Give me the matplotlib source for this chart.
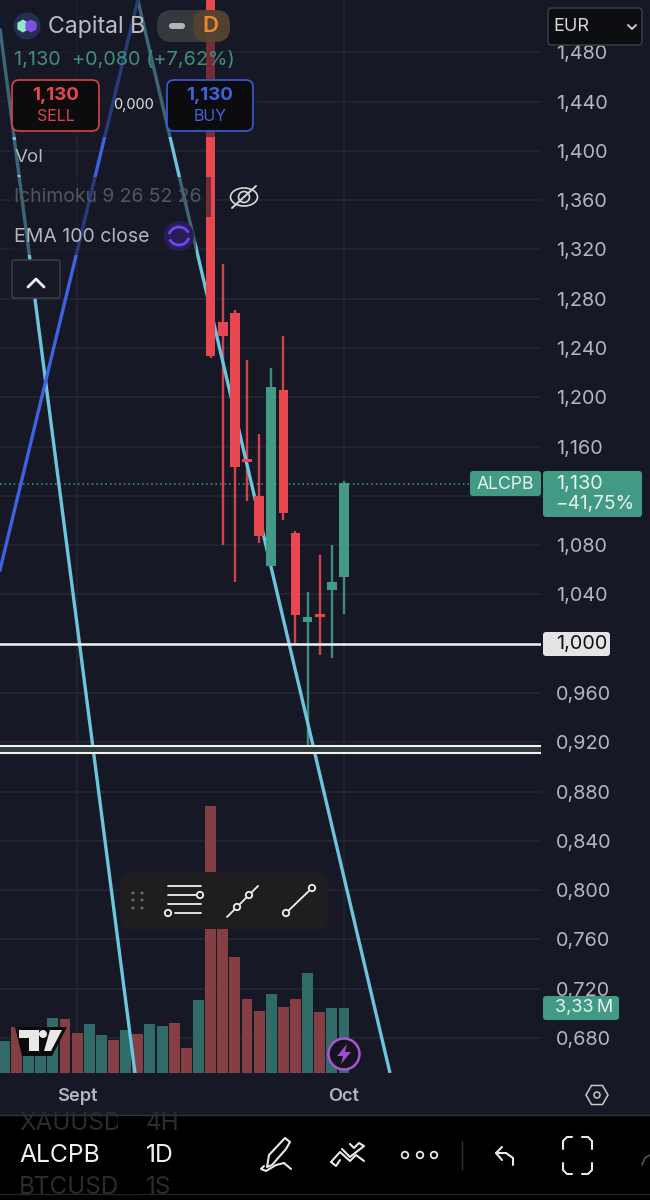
import matplotlib
matplotlib.use("Agg")
import matplotlib.pyplot as plt
from matplotlib.patches import FancyBboxPatch, Rectangle, Circle, Polygon, RegularPolygon, Ellipse, Arc

plt.rcParams['font.family'] = ['Inter', 'DejaVu Sans']

# ---------- data ----------
bar_index = list(range(-11, 1))
opens  = [1.980, 1.2610, 1.2687, 1.1500, 1.1200, 1.0633, 1.2060, 1.0898, 1.0175, 1.0240, 1.0435, 1.0541]
highs  = [1.990, 1.3080, 1.2705, 1.2303, 1.1700, 1.2240, 1.2500, 1.0917, 1.0420, 1.0720, 1.0800, 1.1320]
lows   = [1.232, 1.0800, 1.0500, 1.1160, 1.0820, 1.0633, 1.1004, 1.0000, 0.9170, 0.9910, 0.9880, 1.0240]
closes = [1.2338, 1.2500, 1.1434, 1.1475, 1.0877, 1.2080, 1.1060, 1.0233, 1.0215, 1.0215, 1.0500, 1.1304]

volume_index = list(range(-28, 1))
volumes = [1.66, 2.37, 1.48, 1.40, 2.80, 2.76, 2.05, 2.51, 1.93, 1.69, 2.20, 2.01, 2.49, 2.41, 2.56,
           1.30, 3.72, 13.69, 7.37, 5.96, 3.81, 3.17, 4.04, 3.40, 3.79, 5.15, 3.12, 3.34, 3.33]
volume_up = [1, 0, 1, 1, 1, 0, 0, 1, 1, 0, 1, 0, 1, 1, 0,
             0, 1, 0, 0, 0, 0, 0, 1, 0, 0, 1, 0, 1, 1]

trend_lines = [
    ([-28.36, -17.23], [1.4995, 0.6515]),
    ([-17.0, 3.79], [1.5225, 0.6515]),
    ([-28.36, -17.0], [1.0598, 1.5225]),
]
level_lines = [1.000]
level_band = [0.9110, 0.9172]
last_price = 1.130

price_ticks = [1.48, 1.44, 1.40, 1.36, 1.32, 1.28, 1.24, 1.20, 1.16, 1.12, 1.08, 1.04, 1.00,
               0.96, 0.92, 0.88, 0.84, 0.80, 0.76, 0.72, 0.68]
hidden_tick_labels = [1.12, 1.00]
date_ticks = [-22, 0]
date_labels = ['Sept', 'Oct']

# ---------- colours ----------
BG = '#161925'; GRID = '#242733'; RED = '#e8474f'; TEAL = '#429a84'
VRED = '#843f45'; VTEAL = '#316b68'; CYAN = '#6cc5dc'; BLUE = '#3f63e0'
LABEL = '#b4b6bd'

fig = plt.figure(figsize=(6.5, 12), dpi=100, facecolor=BG)
ax = fig.add_axes([0, 1 - 1073 / 1200, 541 / 650, 1073 / 1200], facecolor=BG)
ax.set_xlim(-28.36, 16.24)
ax.set_ylim(0.6515, 1.5225)

# volume (twinx moves the price axis to the left, so the price axis is set up after it)
vax = ax.twinx()
vax.set_ylim(0, 1073 / 19.5)
vax.set_yticks([])
for s in vax.spines.values():
    s.set_visible(False)
vax.bar(volume_index, volumes, width=0.9,
        color=[VTEAL if u else VRED for u in volume_up], zorder=2)

# grid, axes
ax.yaxis.tick_right()
ax.set_yticks(price_ticks)
ax.set_yticklabels(['' if t in hidden_tick_labels else f'{t:.3f}'.replace('.', ',') for t in price_ticks])
ax.set_xticks(date_ticks)
ax.set_xticklabels(date_labels, fontweight='semibold')
ax.tick_params(axis='y', length=0, labelsize=14.3, labelcolor=LABEL, pad=11)
ax.tick_params(axis='x', length=0, labelsize=13.2, labelcolor=LABEL, pad=11)
ax.grid(True, color=GRID, linewidth=1.2)
ax.set_axisbelow(True)
for s in ax.spines.values():
    s.set_visible(False)

# candles in a top layer
cax = fig.add_axes(ax.get_position(), facecolor='none')
cax.set_xlim(ax.get_xlim()); cax.set_ylim(ax.get_ylim()); cax.axis('off')
for x, o, h, l, c in zip(bar_index, opens, highs, lows, closes):
    col = TEAL if c >= o else RED
    cax.vlines(x, l, h, color=col, linewidth=1.7, alpha=0.9, zorder=3)
    cax.bar(x, abs(c - o), bottom=min(o, c), width=0.8, color=col, zorder=4)
for xs, ys in trend_lines[:2]:
    cax.plot(xs, ys, color=CYAN, linewidth=2.4, zorder=3.5, solid_capstyle='butt')
cax.plot(*trend_lines[2], color=BLUE, linewidth=2.4, zorder=3.5)
for lv in level_lines:
    cax.axhline(lv, color='#f2f2f2', linewidth=1.8, zorder=5)
cax.axhspan(level_band[0], level_band[1], facecolor='#303c38', edgecolor='none', zorder=4.5)
for lv in level_band:
    cax.axhline(lv, color='#f2f2f2', linewidth=1.5, zorder=5)
cax.plot([-28.36, 10.4], [last_price, last_price], color=TEAL, linewidth=1.1, linestyle=(0, (1, 2)), zorder=2.5)

# ---------- UI overlay in pixel coordinates ----------
ui = fig.add_axes([0, 0, 1, 1], facecolor='none')
ui.set_xlim(0, 650); ui.set_ylim(1200, 0); ui.axis('off')

def box(x0, y0, x1, y1, fc, ec='none', lw=1.2, r=4, alpha=None, z=10):
    p = FancyBboxPatch((x0 + r, y0 + r), x1 - x0 - 2 * r, y1 - y0 - 2 * r,
                       boxstyle=f'round,pad={r},rounding_size={r}', fc=fc, ec=ec, lw=lw, alpha=alpha, zorder=z)
    ui.add_patch(p)
    return p

def txt(x, y, s, size=13, color=LABEL, ha='left', weight='normal', z=12, **kw):
    return ui.text(x, y + 1.5, s, fontsize=size, color=color, ha=ha, va='center', fontweight=weight, zorder=z, **kw)

def pl(xs, ys, color='#e8e8e8', lw=1.5, z=12):
    ui.plot(xs, ys, color=color, linewidth=lw, zorder=z, solid_capstyle='round', solid_joinstyle='round')

# translucent legend backing
for x0, y0, x1, y1 in [(0, 0, 157, 42), (0, 42, 240, 78), (0, 78, 258, 137), (12, 140, 44, 175),
                       (10, 177, 211, 217), (10, 217, 196, 255)]:
    ui.add_patch(Rectangle((x0, y0), x1 - x0, y1 - y0, fc=BG, ec='none', alpha=0.55, zorder=8))

# header
ui.add_patch(Circle((27, 26), 13.5, fc='#22304f', ec='none', zorder=11))
ui.add_patch(RegularPolygon((23, 26), 6, radius=6.5, fc='#92e8c4', zorder=12))
ui.add_patch(RegularPolygon((31, 26), 6, radius=6.5, fc='#7d4fe6', zorder=13))
txt(48, 25, 'Capital B', 16.6, '#bcbec4')
box(157, 10, 230, 42, '#3a3c42', r=15, alpha=0.9)
box(193, 10, 230, 42, '#6b4a22', r=14, alpha=0.5, z=11)
box(169, 23, 185, 29, '#b4b4b4', r=3, z=12)
txt(210, 25, 'D', 16, '#ee8a26', ha='center', weight='semibold')
txt(14, 59, '1,130  +0,080 (+7,62%)', 14.3, '#3f8f7c')
box(12, 80, 99, 131, '#0c0c0e', ec='#d9434d', lw=1.2, r=7)
txt(55.5, 94, '1,130', 13.5, RED, ha='center', weight='bold')
txt(55.5, 115, 'SELL', 11.5, '#d9434d', ha='center')
box(167, 80, 253, 131, '#0c0c0e', ec='#3b5bdb', lw=1.2, r=7)
txt(210, 94, '1,130', 13.5, '#3f63e0', ha='center', weight='bold')
txt(210, 115, 'BUY', 11.5, '#3f63e0', ha='center')
txt(133, 103, '0,000', 10.5, '#e0e0e0', ha='center')
txt(15, 156, 'Vol', 13.5)
txt(14, 195, 'Ichimoku 9 26 52 26', 13.9, '#54565d')
txt(14, 235, 'EMA 100 close', 14)
# eye icon
ui.add_patch(Ellipse((244, 197), 27, 18, fc='none', ec='#d8d8d8', lw=1.2, zorder=12))
ui.add_patch(Circle((244, 197), 5.5, fc='none', ec='#d8d8d8', lw=1.2, zorder=12))
pl([232, 256], [208, 186], '#d8d8d8', 1.4)
# refresh icon
ui.add_patch(Circle((179, 236), 15, fc='#2a1c58', ec='none', zorder=11))
ui.add_patch(Arc((179, 236), 20, 18, theta1=190, theta2=340, ec='#6a48f0', lw=2, zorder=12))
ui.add_patch(Arc((179, 236), 20, 18, theta1=10, theta2=160, ec='#6a48f0', lw=2, zorder=12))
# collapse
box(12, 260, 60, 298, '#161925', ec='#3a3d45', lw=1.1, r=3)
pl([28, 36, 44], [287, 279, 287], '#f0f0f0', 2)

# EUR
box(548, 8, 642, 45, '#0c0d10', ec='#3a3d45', lw=1.1, r=4)
txt(553, 25, 'EUR', 13, '#d8d8d8')
pl([628, 632, 636], [25, 29, 25], '#d8d8d8', 1.3)

# price labels
box(470, 471, 541, 496, TEAL, r=3)
txt(477, 483, 'ALCPB', 12.7, '#e6f3ef')
box(543, 471, 642, 517, TEAL, r=3)
txt(556, 482, '1,130', 14.3, '#e6f3ef')
txt(555, 503, '\u221241,75%', 13.7, '#e6f3ef')
box(543, 632, 610, 656, '#e4e4e4', r=3)
txt(556, 642, '1,000', 14.3, '#111111')
box(543, 996, 619, 1020, TEAL, r=3)
txt(555, 1006, '3,33\u202fM', 13, '#e6f3ef')

# floating toolbar
box(120, 872, 328, 929, '#1e1e20', r=9)
for dx in (133, 142):
    for dy in (893, 900, 908):
        ui.add_patch(Circle((dx, dy), 1.5, fc='#6a6a6a', zorder=12))
for y, x0, x1 in [(886, 168, 201), (895, 168, 196), (904, 168, 201), (913, 175, 201)]:
    pl([x0, x1], [y, y], '#f0f0f0', 1.3)
for cx, cy in [(200, 895), (168, 913), (249, 895), (237, 907), (312, 888), (286, 913)]:
    ui.add_patch(Circle((cx, cy), 3.2, fc='#1e1e20', ec='#f0f0f0', lw=1.3, zorder=13))
pl([227, 258], [917, 886], '#f0f0f0', 1.3)
pl([286, 312], [913, 888], '#f0f0f0', 1.3)

# TV logo
ui.add_patch(Polygon([(15, 1027), (67, 1027), (52, 1056), (22, 1056)], fc='#0a0a0a', ec='none', zorder=11))
ui.add_patch(Polygon([(19, 1030), (39, 1030), (39, 1051), (29, 1051), (29, 1038), (19, 1038)], fc='#e8e8e8', zorder=12))
ui.add_patch(Circle((43, 1034), 4, fc='#e8e8e8', zorder=12))
ui.add_patch(Polygon([(50, 1030), (62, 1030), (51, 1051), (44, 1051)], fc='#e8e8e8', zorder=12))

# lightning
ui.add_patch(Circle((344, 1054), 15.5, fc='#17121f', ec='#a657d6', lw=1.8, zorder=12))
ui.add_patch(Polygon([(347, 1044), (337, 1056), (343, 1056), (341, 1064), (351, 1052), (345, 1052)], fc='#9d4ed0', zorder=13))

# settings hexagon
ui.add_patch(RegularPolygon((597, 1095), 6, radius=11, orientation=0.5236, fc='none', ec='#c8c8c8', lw=1.1, zorder=12))
ui.add_patch(Circle((597, 1095), 3, fc='none', ec='#c8c8c8', lw=1.1, zorder=12))

# bottom bar
ui.add_patch(Rectangle((0, 1115), 650, 85, fc='#000000', ec='none', zorder=9))
pl([0, 650], [1115, 1115], '#33353b', 1)
pl([0, 650], [1194, 1194], '#222226', 1)
clip = Rectangle((0, 1116), 650, 78, transform=ui.transData)
for x, y, s in [(19, 1122, 'XAUUSD'), (146, 1122, '4H'), (19, 1186, 'BTCUSD'), (146, 1186, '1S')]:
    t = txt(x, y, s, 17.5, '#2c2c2e')
    t.set_clip_path(clip)
txt(19, 1154, 'ALCPB', 17.8, '#f0f0f0')
txt(146, 1154, '1D', 17.8, '#f0f0f0')
ui.add_patch(Rectangle((118, 1116), 25, 20, fc='#000000', ec='none', zorder=13))
ui.add_patch(Rectangle((118, 1170), 25, 24, fc='#000000', ec='none', zorder=13))
# pen icon
pl([269, 285, 290, 286, 272, 267, 269], [1155, 1138, 1142, 1149, 1165, 1167, 1155])
pl([264, 261, 266, 276, 284, 291], [1166, 1169, 1171, 1165, 1163, 1169])
# multi-chevron
pl([331, 340, 350, 356, 364], [1162, 1152, 1161, 1155, 1161])
pl([331, 336, 340], [1162, 1166, 1160])
pl([342, 350, 364, 359, 354, 350], [1149, 1157, 1146, 1143, 1148, 1144])
# dots
for cx in (405, 420, 434):
    ui.add_patch(Circle((cx, 1155), 3.3, fc='none', ec='#e8e8e8', lw=1.3, zorder=12))
pl([462, 462], [1141, 1169], '#333336', 1)
# undo
pl([502, 496, 502], [1147, 1153, 1160])
pl([496, 506, 513, 513], [1153, 1153, 1158, 1165])
# fullscreen corners
pl([563, 563, 567, 572], [1149, 1141, 1137, 1137])
pl([582, 588, 592, 592], [1137, 1137, 1141, 1149])
pl([563, 563, 567, 572], [1163, 1170, 1174, 1174])
pl([582, 588, 592, 592], [1174, 1174, 1170, 1163])
pl([642, 645, 650], [1165, 1158, 1155], '#555558', 1.2)

fig.savefig('out.png', dpi=100, facecolor=BG)
